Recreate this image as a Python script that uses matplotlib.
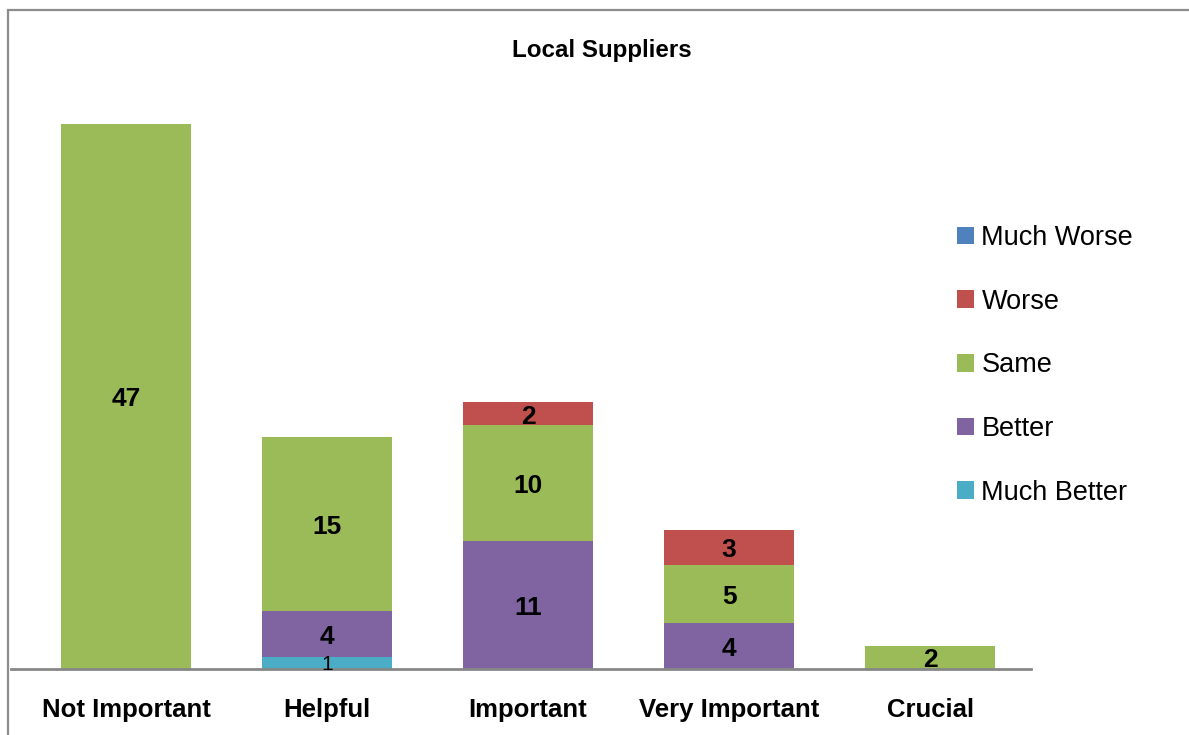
import matplotlib
matplotlib.use('Agg')
import matplotlib.pyplot as plt
from matplotlib.patches import Rectangle, Patch
import numpy as np

plt.rcParams['font.family'] = ['Liberation Sans', 'DejaVu Sans']

categories = ['Not Important', 'Helpful', 'Important', 'Very Important', 'Crucial']
# stacked bottom to top
series = ['Much Better', 'Better', 'Same', 'Worse', 'Much Worse']
much_better = [0, 1, 0, 0, 0]
better = [0, 4, 11, 4, 0]
same = [47, 15, 10, 5, 2]
worse = [0, 0, 2, 3, 0]
much_worse = [0, 0, 0, 0, 0]
colors = ['#4BACC6', '#8064A2', '#9BBB59', '#C0504D', '#4F81BD']

values = [much_better, better, same, worse, much_worse]

fig = plt.figure(figsize=(11.89, 7.35), dpi=100)
ax = fig.add_axes([11 / 1189, 66 / 735, 1020 / 1189, 580 / 735])

x = np.arange(len(categories))
bottom = np.zeros(len(categories))
for name, vals, col in zip(series, values, colors):
    vals = np.array(vals, dtype=float)
    ax.bar(x, vals, 0.645, bottom=bottom, color=col, label=name)
    for xi, b, v in zip(x, bottom, vals):
        if v <= 0:
            continue
        if v < 2:
            ax.text(xi, b + v / 2 - 0.15, f'{int(v)}', ha='center', va='center',
                    fontsize=15, color='black')
        else:
            ax.text(xi, b + v / 2 - 0.25, f'{int(v)}', ha='center', va='center',
                    fontsize=19, fontweight='bold', color='black')
    bottom += vals

ax.set_xlim(-0.572, 4.502)
ax.set_ylim(0, 50)
ax.set_xticks(x)
ax.set_xticklabels(categories, fontsize=18.5, fontweight='bold')
ax.tick_params(axis='x', length=0, pad=21)
ax.set_yticks([])
for s in ['top', 'right', 'left']:
    ax.spines[s].set_visible(False)
ax.spines['bottom'].set_color('#878787')
ax.spines['bottom'].set_linewidth(2)

fig.text(602 / 1189, 1 - 50 / 735, 'Local Suppliers', ha='center', va='center',
         fontsize=17.4, fontweight='bold')

handles = [Patch(facecolor=c, label=n) for n, c in zip(series, colors)][::-1]
fig.legend(handles=handles, loc='upper left',
           bbox_to_anchor=(957 / 1189, 1 - 225 / 735), frameon=False,
           fontsize=19.5, labelspacing=1.39, handlelength=0.63, handleheight=0.63,
           handletextpad=0.27, borderpad=0, borderaxespad=0)

# outer frame of the chart area
fig.patches.append(Rectangle((8 / 1189, -0.05), 1.1, 1.05 - 10 / 735,
                             transform=fig.transFigure, fill=False,
                             edgecolor='#8c8c8c', linewidth=1.6, clip_on=False))

fig.savefig('out.png', dpi=100)
